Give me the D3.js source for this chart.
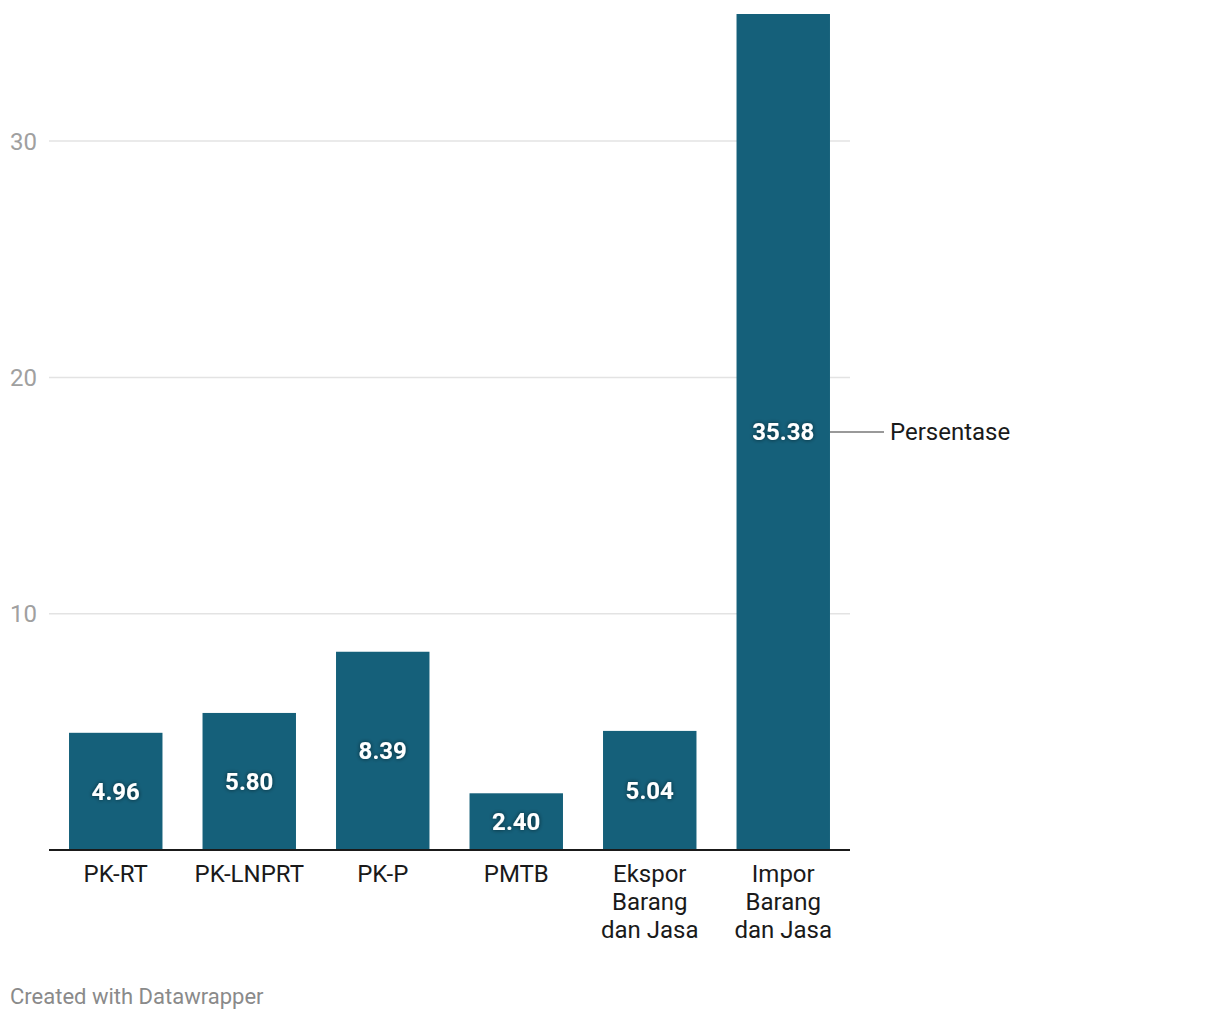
<!DOCTYPE html>
<html><head><meta charset="utf-8">
<script src="https://cdn.jsdelivr.net/npm/d3@7"></script>
<style>
body{margin:0;background:#fff;font-family:Roboto,sans-serif;}
</style></head><body>
<svg id="chart" width="1220" height="1020"></svg>
<script>
const categories = [["PK-RT"],["PK-LNPRT"],["PK-P"],["PMTB"],["Ekspor","Barang","dan Jasa"],["Impor","Barang","dan Jasa"]];
const values = [4.96, 5.80, 8.39, 2.40, 5.04, 35.38];
const yTicks = [10, 20, 30];
const seriesName = "Persentase";

(function(){
const svg = d3.select("#chart");
const mLeft = 49, mRight = 850, mTop = 14, mBottom = 850;
const keys = categories.map((c,i)=>i);
const x = d3.scaleBand().domain(keys).range([mLeft,mRight]).paddingInner(0.3).paddingOuter(0.15);
const y = d3.scaleLinear().domain([0, 35.38]).range([mBottom, mTop]);

const defs = svg.append("defs");
const f = defs.append("filter").attr("id","sh").attr("x","-20%").attr("y","-50%").attr("width","140%").attr("height","200%");
f.append("feDropShadow").attr("dx",0).attr("dy",0).attr("stdDeviation",2).attr("flood-color","#000").attr("flood-opacity",0.6);

// grid
svg.append("g").selectAll("line").data(yTicks).join("line")
  .attr("x1",mLeft).attr("x2",mRight).attr("y1",d=>y(d)).attr("y2",d=>y(d))
  .attr("stroke","#e3e3e3").attr("stroke-width",1.5);
svg.append("g").selectAll("text").data(yTicks).join("text")
  .attr("x",10).attr("y",d=>y(d)).attr("dy","0.35em")
  .attr("font-size",24).attr("fill","#a0a0a0").text(d=>d);

// bars
svg.append("g").selectAll("rect").data(values).join("rect")
  .attr("x",(d,i)=>x(i)).attr("width",x.bandwidth())
  .attr("y",d=>y(d)).attr("height",d=>mBottom-y(d)).attr("fill","#15607a");

// value labels
svg.append("g").selectAll("text").data(values).join("text")
  .attr("x",(d,i)=>x(i)+x.bandwidth()/2).attr("y",d=>(y(d)+mBottom)/2).attr("dy","0.35em")
  .attr("text-anchor","middle").attr("font-size",24).attr("font-weight","bold")
  .attr("fill","#fff").attr("filter","url(#sh)").text(d=>d.toFixed(2));

// baseline
svg.append("line").attr("x1",mLeft).attr("x2",mRight).attr("y1",mBottom).attr("y2",mBottom)
  .attr("stroke","#1a1a1a").attr("stroke-width",2);

// category labels
const cl = svg.append("g").selectAll("text").data(categories).join("text")
  .attr("x",(d,i)=>x(i)+x.bandwidth()/2).attr("y",882)
  .attr("text-anchor","middle").attr("font-size",24).attr("fill","#1a1a1a");
cl.each(function(d,i){
  const t = d3.select(this);
  d.forEach((line,j)=>t.append("tspan").attr("x",x(i)+x.bandwidth()/2).attr("y",882+j*28).text(line));
});

// series label
const last = values.length-1;
const ly = (y(values[last])+mBottom)/2;
svg.append("line").attr("x1",x(last)+x.bandwidth()).attr("x2",884).attr("y1",ly).attr("y2",ly)
  .attr("stroke","#777").attr("stroke-width",1.5);
svg.append("text").attr("x",890).attr("y",ly).attr("dy","0.35em").attr("font-size",24)
  .attr("fill","#1a1a1a").text(seriesName);

// footer
svg.append("text").attr("x",10).attr("y",1004).attr("font-size",22).attr("fill","#8a8a8a").text("Created with Datawrapper");
})();
</script>
</body></html>
